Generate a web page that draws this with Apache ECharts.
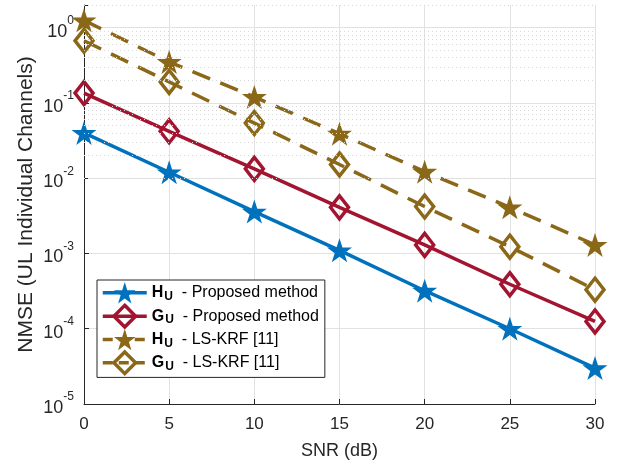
<!DOCTYPE html>
<html>
<head>
<meta charset="utf-8">
<script src="https://cdn.jsdelivr.net/npm/echarts@6/dist/echarts.min.js"></script>
<style>
html, body { margin: 0; padding: 0; background: #fff; }
#chart { width: 623px; height: 466px; }
</style>
</head>
<body>
<div id="chart"></div>
<script>
// data
var snr = [0, 5, 10, 15, 20, 25, 30];
var huProposed = [0.04, 0.012, 0.0036, 0.0011, 0.00032, 0.0001, 0.00003];
var guProposed = [0.135, 0.042, 0.0133, 0.0041, 0.0013, 0.00039, 0.000125];
var huKrf = [1.25, 0.35, 0.12, 0.039, 0.0122, 0.0041, 0.0013];
var guKrf = [0.67, 0.19, 0.054, 0.0152, 0.0042, 0.00123, 0.00033];

var xTicks = [0, 5, 10, 15, 20, 25, 30];
var decades = [-5, -4, -3, -2, -1, 0];
var minorSteps = [2, 3, 4, 5, 6, 7, 8, 9];

var legendSym = ['H', 'G', 'H', 'G'];
var legendText = ['- Proposed method', '- Proposed method', '- LS-KRF [11]', '- LS-KRF [11]'];
var seriesNames = ['HU proposed', 'GU proposed', 'HU krf', 'GU krf'];

var blue = '#0072BD';
var red = '#A2142F';
var gold = '#8b6718';
var axisCol = '#262626';
var font = 'Liberation Sans, Arial, Helvetica, sans-serif';
var dash = [19, 11];

var star = 'path://M50,0L61.2,34.5L97.6,34.5L68.2,55.9L79.4,90.5L50,69.1L20.6,90.5L31.8,55.9L2.4,34.5L38.8,34.5Z';

function pairs(ys) {
	return snr.map(function(x, i) {
		return [x, ys[i]];
	});
}

// minor grid values 2..9 x 10^n
var minorTicks = [];
decades.forEach(function(d) {
	if (d >= 0) {
		minorTicks.push(2 * Math.pow(10, d));
		return;
	}
	minorSteps.forEach(function(m) {
		minorTicks.push(m * Math.pow(10, d));
	});
});

var myChart = echarts.init(document.getElementById('chart'));

var option = {
	animation: false,
	textStyle: { fontFamily: font },
	grid: { left: 84, right: 28, top: 5, bottom: 62 },
	legend: {
		data: [{
			name: seriesNames[0],
			lineStyle: { width: 3.5, color: blue },
			itemStyle: { color: blue }
		}, {
			name: seriesNames[1],
			lineStyle: { width: 3.5, color: red },
			itemStyle: { color: 'rgba(0,0,0,0)', borderColor: red, borderWidth: 3.5 }
		}, {
			name: seriesNames[2],
			lineStyle: { width: 3.5, color: gold, type: [10, 6] },
			itemStyle: { color: gold }
		}, {
			name: seriesNames[3],
			lineStyle: { width: 3.5, color: gold, type: [10, 6] },
			itemStyle: { color: 'rgba(0,0,0,0)', borderColor: gold, borderWidth: 3.5 }
		}],
		orient: 'vertical',
		left: 97,
		top: 280,
		backgroundColor: '#fff',
		borderColor: axisCol,
		borderWidth: 1,
		borderRadius: 0,
		padding: [2, 6, 2, 4],
		itemWidth: 44,
		itemHeight: 27,
		itemGap: 0,
		formatter: function(name) {
			var i = seriesNames.indexOf(name);
			return '{h|' + legendSym[i] + '}{u|U}{t|  ' + legendText[i] + '}';
		},
		textStyle: {
			color: '#000',
			rich: {
				h: { fontSize: 16, fontWeight: 'bold', fontFamily: font, color: '#000', lineHeight: 18 },
				u: { fontSize: 12, fontWeight: 'bold', fontFamily: font, color: '#000', lineHeight: 13, padding: [8, 0, 0, 1] },
				t: { fontSize: 16, fontFamily: font, color: '#000', lineHeight: 18 }
			}
		}
	},
	xAxis: {
		type: 'value',
		min: 0,
		max: 30,
		interval: 5,
		name: 'SNR (dB)',
		nameLocation: 'middle',
		nameGap: 38,
		nameMoveOverlap: false,
		nameTextStyle: { fontSize: 18, color: axisCol, fontFamily: font },
		axisLine: { show: true, lineStyle: { color: axisCol, width: 1 } },
		axisTick: { show: true, inside: true, length: 5, lineStyle: { color: axisCol } },
		axisLabel: { fontSize: 17, color: axisCol, margin: 12, fontFamily: font },
		splitLine: { show: true, lineStyle: { color: '#e2e2e2', width: 1 } }
	},
	yAxis: {
		type: 'log',
		logBase: 10,
		min: 1e-5,
		max: 2,
		name: 'NMSE (UL Individual Channels)',
		nameLocation: 'middle',
		nameGap: 47,
		nameMoveOverlap: false,
		nameTextStyle: { fontSize: 21, color: axisCol, fontFamily: font },
		axisLine: { show: true, lineStyle: { color: axisCol, width: 1 } },
		axisTick: { show: true, inside: true, length: 5, lineStyle: { color: axisCol } },
		axisLabel: {
			margin: 10,
			color: axisCol,
			formatter: function(v) {
				var l = Math.log(v) / Math.LN10;
				var e = Math.round(l);
				if (Math.abs(l - e) > 1e-6) {
					return '';
				}
				return '{n|10}{e|' + e + '}';
			},
			rich: {
				n: { fontSize: 18, fontFamily: font, color: axisCol, lineHeight: 26, verticalAlign: 'bottom' },
				e: { fontSize: 12, fontFamily: font, color: axisCol, lineHeight: 14, verticalAlign: 'top' }
			}
		},
		splitLine: { show: true, showMaxLine: false, lineStyle: { color: '#e2e2e2', width: 1 } }
	},
	series: [{
		name: 'minor',
		type: 'line',
		data: [],
		silent: true,
		markLine: {
			silent: true,
			symbol: ['none', 'none'],
			label: { show: false },
			lineStyle: { type: [1, 3], color: '#d6d6d6', width: 1 },
			emphasis: { disabled: true },
			data: minorTicks.map(function(v) {
				return { yAxis: v };
			})
		}
	}, {
		name: seriesNames[0],
		type: 'line',
		data: pairs(huProposed),
		clip: false,
		symbol: star,
		symbolSize: [25, 24],
		lineStyle: { color: blue, width: 3.5 },
		itemStyle: { color: blue }
	}, {
		name: seriesNames[1],
		type: 'line',
		data: pairs(guProposed),
		clip: false,
		symbol: 'diamond',
		symbolSize: [18, 23],
		lineStyle: { color: red, width: 3.5 },
		itemStyle: { color: 'rgba(0,0,0,0)', borderColor: red, borderWidth: 3.5 }
	}, {
		name: seriesNames[2],
		type: 'line',
		data: pairs(huKrf),
		clip: false,
		symbol: star,
		symbolSize: [25, 24],
		lineStyle: { color: gold, width: 3.5, type: dash },
		itemStyle: { color: gold }
	}, {
		name: seriesNames[3],
		type: 'line',
		data: pairs(guKrf),
		clip: false,
		symbol: 'diamond',
		symbolSize: [18, 23],
		lineStyle: { color: gold, width: 3.5, type: dash },
		itemStyle: { color: 'rgba(0,0,0,0)', borderColor: gold, borderWidth: 3.5 }
	}]
};
myChart.setOption(option);
</script>
</body>
</html>
